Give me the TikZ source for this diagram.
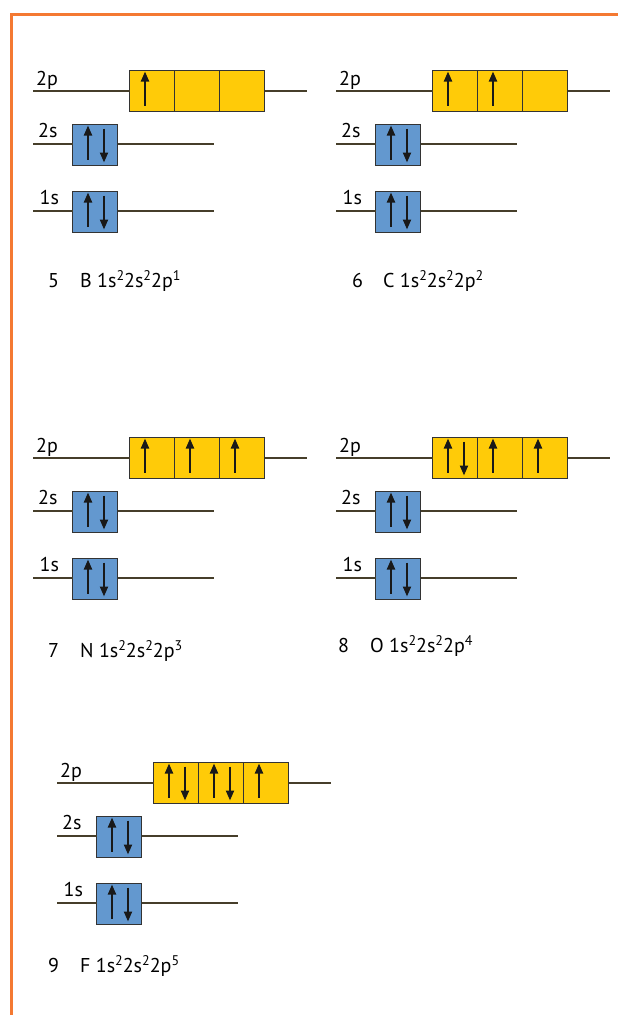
\documentclass[tikz,border=0pt]{standalone}
\usepackage{fontspec}
\setmainfont{PT Sans}
\usepackage{xcolor}
\usetikzlibrary{arrows.meta,positioning}
\definecolor{pyellow}{RGB}{255,203,8}
\definecolor{sblue}{RGB}{99,152,207}
\definecolor{levelc}{RGB}{70,62,42}
\definecolor{framec}{RGB}{244,121,50}
\newcommand{\esup}[1]{\raisebox{7pt}{\fontsize{14}{14}\selectfont #1}}
\newcommand{\eup}[1]{\draw[spin] ([shift={(-7,15)}]#1.center) -- ++(0,-34);}
\newcommand{\edn}[1]{\draw[spin] ([shift={(9,-16)}]#1.center) -- ++(0,34);}
\newcommand{\ecell}[2]{\ifnum#2>0 \eup{#1}\fi\ifnum#2>1 \edn{#1}\fi}
\newcommand{\orbpanel}[6]{%
  \begin{scope}[shift={(#2,#3)}]
    % 2p level
    \node[pcell] (#1p1) at (152,90.5) {};
    \node[pcell,right=0pt of #1p1] (#1p2) {};
    \node[pcell,right=0pt of #1p2] (#1p3) {};
    \coordinate (#1pa) at (33,91);
    \coordinate (#1pb) at (307,91);
    \draw[level] (#1pa) -- (#1p1.west |- #1pa);
    \draw[level] (#1p3.east |- #1pb) -- (#1pb);
    \node[lvl] (#1pl) at (36,85.5) {2p};
    \ecell{#1p1}{#4}\ecell{#1p2}{#5}\ecell{#1p3}{#6}
    % 2s and 1s levels
    \foreach \s/\y/\lx in {2s/144.5/38,1s/211.5/39.5}{
      \node[scell] (#1\s) at (95,\y) {};
      \coordinate (#1\s a) at (33,\y-0.5);
      \coordinate (#1\s b) at (214,\y-0.5);
      \draw[level] (#1\s a) -- (#1\s.west |- #1\s a);
      \draw[level] (#1\s.east |- #1\s b) -- (#1\s b);
      \node[lvl] (#1\s l) at (\lx,\y-7.5) {\s};
      \ecell{#1\s}{2}
    }
  \end{scope}}

\begin{document}
\begin{tikzpicture}[x=1pt,y=-1pt,
    pcell/.style={draw=black!80,fill=pyellow,minimum width=45pt,minimum height=41pt,
      inner sep=0pt,outer sep=0pt,line width=0.9pt},
    scell/.style={pcell,fill=sblue},
    level/.style={draw=levelc,line width=1.2pt},
    spin/.style={black!90,line width=2pt,-{Triangle[length=10pt,width=8pt]}},
    lvl/.style={anchor=base west,inner sep=0pt,font=\fontsize{20}{24}\selectfont},
    frame/.style={draw=framec,line width=3pt}]
  \useasboundingbox (0,0) rectangle (618,1015);
  \coordinate (fa) at (618,14);
  \coordinate (fb) at (11,14);
  \coordinate (fc) at (11,1015);
  \draw[frame] (fa) -- (fb) -- (fc);

  \orbpanel{B}{0}{0}{1}{0}{0}
  \orbpanel{C}{303}{0}{1}{1}{0}
  \orbpanel{N}{0}{367}{1}{1}{1}
  \orbpanel{O}{303}{367}{2}{1}{1}
  \orbpanel{F}{24}{692}{2}{2}{1}

  % configurations
  \node[lvl] (Bz) at (48,287) {5};
  \node[lvl] (Bc) at (80,287) {B 1s\esup{2}2s\esup{2}2p\esup{1}};
  \node[lvl] (Cz) at (352,287) {6};
  \node[lvl] (Cc) at (383,287) {C 1s\esup{2}2s\esup{2}2p\esup{2}};
  \node[lvl] (Nz) at (48,657) {7};
  \node[lvl] (Nc) at (80,657) {N 1s\esup{2}2s\esup{2}2p\esup{3}};
  \node[lvl] (Oz) at (338,652) {8};
  \node[lvl] (Oc) at (370,652) {O 1s\esup{2}2s\esup{2}2p\esup{4}};
  \node[lvl] (Fz) at (48,972) {9};
  \node[lvl] (Fc) at (80,972) {F 1s\esup{2}2s\esup{2}2p\esup{5}};
\end{tikzpicture}
\end{document}
